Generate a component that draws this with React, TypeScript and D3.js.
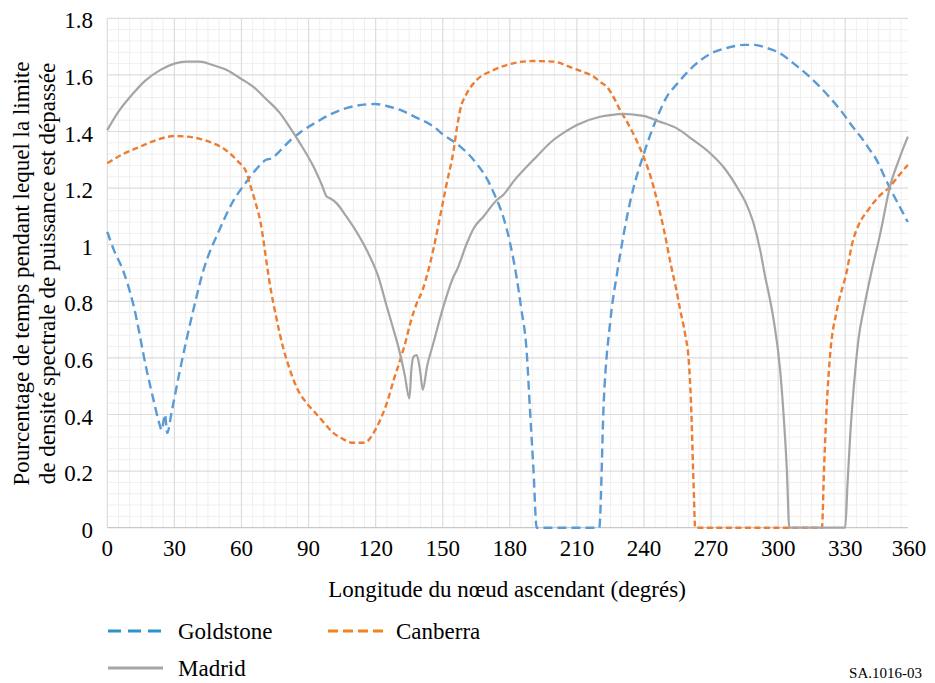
import React from "react";
import * as d3 from "d3";

// ---- Data (longitude in degrees, percentage) ----
const goldstoneLon = [0, 3, 7, 11.6, 17.6, 21, 23.2, 24.3, 25.8, 26.8, 28.8, 32.5, 38.5, 43, 50, 56, 62, 67, 71, 73.5, 77, 82, 86, 95, 101, 108, 116, 120, 125, 131, 138, 146, 150, 158, 165, 170, 173, 177, 180, 183, 185, 187.6, 189, 190.6, 192, 220, 222, 225, 228, 231, 234, 240, 246, 250, 255, 262, 270, 277, 285, 289, 295, 300, 307, 314, 322, 329, 333, 338, 341, 344, 347, 350, 354, 358];
const goldstoneVal = [1.045, 0.98, 0.91, 0.79, 0.557, 0.44, 0.37, 0.345, 0.4, 0.335, 0.41, 0.557, 0.77, 0.91, 1.05, 1.15, 1.22, 1.27, 1.3, 1.305, 1.33, 1.37, 1.395, 1.44, 1.465, 1.485, 1.496, 1.497, 1.49, 1.476, 1.45, 1.417, 1.39, 1.346, 1.288, 1.23, 1.18, 1.1, 1.01, 0.887, 0.78, 0.616, 0.42, 0.204, 0, 0, 0.44, 0.734, 0.9, 1.04, 1.158, 1.323, 1.452, 1.52, 1.57, 1.63, 1.676, 1.695, 1.706, 1.706, 1.695, 1.68, 1.64, 1.594, 1.53, 1.464, 1.42, 1.37, 1.335, 1.3, 1.25, 1.2, 1.14, 1.08];

const canberraLon = [0, 7, 14.6, 22, 30, 35.5, 41, 47.4, 52, 56.4, 59, 60.8, 62.5, 63.7, 65.5, 66.8, 68.5, 69.8, 71, 72.5, 75.8, 78.5, 81.7, 85, 89.2, 93.7, 97, 101.2, 105, 110, 114, 116, 119, 122, 125, 128, 131, 133.5, 135.4, 138.4, 141, 143.6, 146, 148.8, 151.8, 154.8, 156.5, 157.8, 160.8, 165.2, 172.7, 181.6, 190.6, 199.5, 208.5, 213, 217.4, 220.5, 223.4, 226.5, 229.3, 232, 236, 239.8, 243, 245.8, 249, 252, 254.5, 256.2, 258.5, 260, 261, 262.2, 262.9, 319.6, 320.5, 321.8, 323.3, 326.3, 330.8, 333, 336, 340, 345, 350, 354, 358];
const canberraVal = [1.288, 1.32, 1.346, 1.37, 1.384, 1.382, 1.375, 1.358, 1.34, 1.311, 1.29, 1.276, 1.25, 1.217, 1.17, 1.134, 1.08, 1.017, 0.95, 0.87, 0.734, 0.64, 0.557, 0.49, 0.44, 0.4, 0.37, 0.334, 0.315, 0.3, 0.3, 0.304, 0.334, 0.38, 0.44, 0.52, 0.593, 0.66, 0.72, 0.793, 0.84, 0.91, 0.99, 1.099, 1.217, 1.33, 1.42, 1.476, 1.535, 1.582, 1.617, 1.641, 1.649, 1.647, 1.623, 1.61, 1.594, 1.575, 1.558, 1.52, 1.476, 1.44, 1.38, 1.311, 1.24, 1.158, 1.05, 0.93, 0.84, 0.77, 0.68, 0.593, 0.45, 0.15, 0, 0, 0.2, 0.44, 0.616, 0.769, 0.91, 1.0, 1.07, 1.12, 1.17, 1.205, 1.245, 1.282];

const madridLon = [0, 5, 11.6, 17, 23.6, 30, 35.5, 41.5, 47, 53.4, 59, 65.3, 71, 77.3, 82, 86.2, 92.2, 96, 98.1, 99.6, 102.6, 106, 110, 116, 121.2, 125, 128, 130.9, 133, 135.1, 136, 136.9, 138.4, 139.8, 141.1, 143, 145.8, 150.3, 154.8, 156.3, 160.8, 164, 168.2, 174.2, 177.1, 181.6, 190.6, 199.5, 205, 210, 220.4, 225, 230.8, 235, 239.8, 247, 254.7, 262, 269.6, 276, 281.5, 286, 289, 292, 294.2, 296, 298, 300.9, 302.4, 303.9, 305, 330, 331, 332.2, 334.5, 336, 338.2, 341.9, 345.7, 350, 354, 358];
const madridVal = [1.405, 1.47, 1.535, 1.58, 1.617, 1.64, 1.647, 1.647, 1.635, 1.617, 1.59, 1.558, 1.515, 1.464, 1.41, 1.358, 1.276, 1.21, 1.17, 1.164, 1.146, 1.11, 1.064, 0.981, 0.887, 0.781, 0.7, 0.616, 0.54, 0.457, 0.56, 0.604, 0.61, 0.56, 0.487, 0.57, 0.652, 0.781, 0.887, 0.91, 1.005, 1.06, 1.099, 1.158, 1.176, 1.223, 1.3, 1.37, 1.4, 1.423, 1.452, 1.458, 1.462, 1.46, 1.455, 1.435, 1.411, 1.37, 1.323, 1.27, 1.205, 1.14, 1.076, 0.98, 0.887, 0.82, 0.734, 0.557, 0.404, 0.204, 0, 0, 0.15, 0.322, 0.557, 0.67, 0.769, 0.91, 1.04, 1.205, 1.3, 1.382];

const xTicks = [0, 30, 60, 90, 120, 150, 180, 210, 240, 270, 300, 330, 360];
const yTicks = [0, 0.2, 0.4, 0.6, 0.8, 1, 1.2, 1.4, 1.6, 1.8];
const seriesNames = ["Goldstone", "Canberra", "Madrid"];

const FONT = "Liberation Serif, Times New Roman, serif";

export default function App() {
  const W = 935, H = 683;
  const x0 = 107.3, x1 = 912.3, plotRight = 908;
  const yTop = 18.3, yBot = 527.7;
  const x = d3.scaleLinear().domain([0, 360]).range([x0, x1]);
  const y = d3.scaleLinear().domain([0, 1.8]).range([yBot, yTop]);

  const line = d3.line<[number, number]>()
    .x(d => x(d[0]))
    .y(d => y(d[1]))
    .curve(d3.curveMonotoneX);

  const zip = (a: number[], b: number[]) => a.map((v, i) => [v, b[i]] as [number, number]);

  const series = [
    { name: seriesNames[0], data: zip(goldstoneLon, goldstoneVal), color: "#5B9BD5", dash: "9,5", width: 2.4 },
    { name: seriesNames[1], data: zip(canberraLon, canberraVal), color: "#ED7D31", dash: "6,3.5", width: 2.4 },
    { name: seriesNames[2], data: zip(madridLon, madridVal), color: "#A5A5A5", dash: null, width: 2.2 },
  ];

  const minorX = d3.range(0, 360, 5).filter(v => v % 30 !== 0 && x(v) < plotRight);
  const minorY = d3.range(0, 1.8001, 0.04).filter(v => Math.abs(v / 0.2 - Math.round(v / 0.2)) > 0.01);

  return (
    <svg width={W} height={H} style={{ position: "absolute", left: 0, top: 0, background: "#fff" }}>
      <rect x={0} y={0} width={W} height={H} fill="#fff" />
      <defs>
        <clipPath id="plotclip">
          <rect x={x0 - 2} y={yTop - 4} width={plotRight - x0 + 3} height={yBot - yTop + 8} />
        </clipPath>
      </defs>
      {/* minor grid */}
      <g stroke="#efefef" strokeWidth={1}>
        {minorX.map(v => <line key={"mx" + v} x1={x(v)} x2={x(v)} y1={yTop} y2={yBot} />)}
        {minorY.map(v => <line key={"my" + v} x1={x0} x2={plotRight} y1={y(v)} y2={y(v)} />)}
      </g>
      {/* major grid */}
      <g stroke="#dcdcdc" strokeWidth={1.2}>
        {xTicks.filter(v => x(v) < plotRight).map(v => <line key={"gx" + v} x1={x(v)} x2={x(v)} y1={yTop} y2={yBot} />)}
        {yTicks.filter(v => v > 0).map(v => <line key={"gy" + v} x1={x0} x2={plotRight} y1={y(v)} y2={y(v)} />)}
      </g>
      <line x1={x0} x2={plotRight} y1={yBot} y2={yBot} stroke="#c8c8c8" strokeWidth={1.3} />

      {/* series */}
      <g clipPath="url(#plotclip)">
        {series.map(s => (
          <path key={s.name} d={line(s.data) || ""} fill="none" stroke={s.color}
            strokeWidth={s.width} strokeDasharray={s.dash || undefined} strokeLinejoin="round" />
        ))}
      </g>

      {/* y tick labels */}
      <g style={{ fontFamily: FONT }} fontSize={23} fill="#000" textAnchor="end">
        {yTicks.map(v => <text key={"yl" + v} x={93} y={y(v) + 10}>{String(v)}</text>)}
      </g>
      {/* x tick labels */}
      <g style={{ fontFamily: FONT }} fontSize={23} fill="#000" textAnchor="middle">
        {xTicks.map(v => <text key={"xl" + v} x={Math.min(x(v), 909)} y={556}>{String(v)}</text>)}
      </g>

      {/* axis titles */}
      <g style={{ fontFamily: FONT }} fontSize={23} fill="#000" textAnchor="middle">
        <text transform="translate(29,273.5) rotate(-90)">Pourcentage de temps pendant lequel la limite</text>
        <text transform="translate(55,273.5) rotate(-90)">de densité spectrale de puissance est dépassée</text>
        <text x={507} y={597}>Longitude du nœud ascendant (degrés)</text>
      </g>

      {/* legend */}
      <g style={{ fontFamily: FONT }} fontSize={23} fill="#000">
        <line x1={108} x2={163} y1={631} y2={631} stroke="#2E92CB" strokeWidth={3} strokeDasharray="13,7" />
        <text x={178} y={639}>{seriesNames[0]}</text>
        <line x1={328} x2={385} y1={631} y2={631} stroke="#F0841F" strokeWidth={3} strokeDasharray="10,5" />
        <text x={396} y={639}>{seriesNames[1]}</text>
        <line x1={108} x2={163} y1={668} y2={668} stroke="#A6A6A6" strokeWidth={3} />
        <text x={178} y={676}>{seriesNames[2]}</text>
      </g>
      <text x={922} y={678} style={{ fontFamily: FONT }} fontSize={15} textAnchor="end" fill="#000">SA.1016-03</text>
    </svg>
  );
}
